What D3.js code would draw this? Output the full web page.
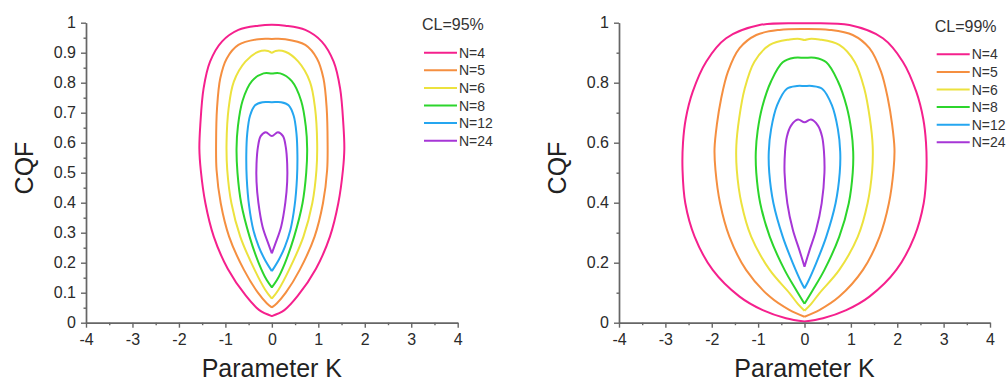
<!DOCTYPE html>
<html>
<head>
<meta charset="utf-8">
<script src="https://cdn.jsdelivr.net/npm/d3@7"></script>
<style>
    body { margin: 0; background: #fff; }
    svg { display: block; font-family: 'Liberation Sans', Arial, sans-serif; }
</style>
</head>
<body>
<svg id="chart" width="1007" height="383"></svg>
<script>

var seriesNames = ['N=4', 'N=5', 'N=6', 'N=8', 'N=12', 'N=24'];
var seriesColors = ['#f5208d', '#f58f40', '#ece23e', '#2cd52c', '#25a6f0', '#a636d6'];

var xTicks = [-4, -3, -2, -1, 0, 1, 2, 3, 4];
var xMinorTicks = [-3.5, -2.5, -1.5, -0.5, 0.5, 1.5, 2.5, 3.5];
var leftYTicks = [0, 0.1, 0.2, 0.3, 0.4, 0.5, 0.6, 0.7, 0.8, 0.9, 1];
var leftYMinorTicks = [0.05, 0.15, 0.25, 0.35, 0.45, 0.55, 0.65, 0.75, 0.85, 0.95];
var rightYTicks = [0, 0.2, 0.4, 0.6, 0.8, 1];
var rightYMinorTicks = [0.1, 0.3, 0.5, 0.7, 0.9];

// half contours (K >= 0), read from bottom to top: [K, CQF]
var cl95_n4 = [[0, 0.022], [0.27, 0.042], [0.56, 0.09], [0.95, 0.18], [1.25, 0.287], [1.43, 0.398], [1.53, 0.509], [1.56, 0.58], [1.54, 0.659], [1.47, 0.78], [1.33, 0.87], [1.075, 0.937], [0.72, 0.976], [0.29, 0.99], [0, 0.993]];
var cl95_n5 = [[0, 0.051], [0.11, 0.065], [0.3, 0.1], [0.6, 0.176], [0.92, 0.287], [1.1, 0.398], [1.19, 0.509], [1.2, 0.6], [1.18, 0.715], [1.11, 0.815], [0.97, 0.881], [0.72, 0.926], [0.29, 0.945], [0, 0.946]];
var cl95_n6 = [[0, 0.08], [0.14, 0.109], [0.37, 0.176], [0.68, 0.287], [0.87, 0.398], [0.96, 0.509], [0.975, 0.6], [0.93, 0.715], [0.82, 0.803], [0.57, 0.87], [0.29, 0.903], [0.08, 0.906], [0, 0.9]];
var cl95_n8 = [[0, 0.118], [0.11, 0.142], [0.28, 0.198], [0.48, 0.287], [0.66, 0.398], [0.74, 0.5], [0.76, 0.58], [0.73, 0.655], [0.63, 0.74], [0.43, 0.805], [0.18, 0.831], [0, 0.831]];
var cl95_n12 = [[0, 0.172], [0.15, 0.21], [0.28, 0.253], [0.4, 0.31], [0.49, 0.39], [0.54, 0.48], [0.55, 0.56], [0.53, 0.63], [0.47, 0.69], [0.36, 0.725], [0.2, 0.735], [0, 0.735]];
var cl95_n24 = [[0, 0.231], [0.08, 0.265], [0.2, 0.32], [0.29, 0.4], [0.33, 0.47], [0.33, 0.53], [0.3, 0.585], [0.24, 0.622], [0.13, 0.635], [0, 0.622]];

var cl99_n4 = [[0, 0.004], [0.4, 0.015], [0.9, 0.042], [1.4, 0.087], [1.98, 0.176], [2.37, 0.287], [2.57, 0.398], [2.63, 0.509], [2.62, 0.6], [2.56, 0.68], [2.41, 0.77], [2.12, 0.87], [1.69, 0.948], [0.97, 0.992], [0, 0.998]];
var cl99_n5 = [[0, 0.02], [0.32, 0.042], [0.75, 0.087], [1.26, 0.176], [1.62, 0.287], [1.82, 0.398], [1.92, 0.509], [1.94, 0.58], [1.89, 0.66], [1.8, 0.745], [1.65, 0.837], [1.4, 0.915], [1.04, 0.959], [0.54, 0.976], [0, 0.979]];
var cl99_n6 = [[0, 0.04], [0.14, 0.062], [0.32, 0.098], [0.75, 0.176], [1.15, 0.287], [1.36, 0.398], [1.46, 0.509], [1.47, 0.59], [1.41, 0.68], [1.29, 0.78], [1.08, 0.87], [0.75, 0.926], [0.32, 0.944], [0.1, 0.946], [0, 0.942]];
var cl99_n8 = [[0, 0.063], [0.18, 0.109], [0.43, 0.176], [0.75, 0.287], [0.955, 0.398], [1.04, 0.5], [1.05, 0.57], [1.01, 0.64], [0.91, 0.72], [0.72, 0.805], [0.47, 0.868], [0.22, 0.883], [0, 0.883]];
var cl99_n12 = [[0, 0.115], [0.07, 0.135], [0.25, 0.198], [0.47, 0.287], [0.67, 0.398], [0.76, 0.5], [0.77, 0.57], [0.72, 0.645], [0.59, 0.725], [0.38, 0.78], [0.16, 0.789], [0, 0.789]];
var cl99_n24 = [[0, 0.187], [0.11, 0.242], [0.25, 0.309], [0.37, 0.398], [0.43, 0.5], [0.42, 0.57], [0.38, 0.62], [0.29, 0.657], [0.14, 0.677], [0, 0.668]];

var svg = d3.select('#chart');

// mirror the right half onto K < 0 so the path runs bottom -> right -> top -> left -> bottom
function fullOutline(half) {
    var left = half.slice(0, -1).reverse().map(function(p) {
        return [-p[0], p[1]];
    });
    return half.concat(left);
}

function drawPanel(panel) {

    var g = svg.append('g');

    var x = d3.scaleLinear()
        .domain([-4, 4])
        .range([panel.left, panel.right]);

    var y = d3.scaleLinear()
        .domain([0, 1])
        .range([322.7, 22.7]);

    var line = d3.line()
        .x(function(d) { return x(d[0]); })
        .y(function(d) { return y(d[1]); })
        .curve(d3.curveCatmullRom.alpha(0.5));

    g.selectAll('.contour')
        .data(panel.curves)
        .enter()
        .append('path')
            .attr('class', 'contour')
            .attr('d', function(d) { return line(fullOutline(d)); })
            .attr('fill', 'none')
            .attr('stroke', function(d, i) { return seriesColors[i]; })
            .attr('stroke-width', 2)
            .attr('stroke-linejoin', 'round');

    // minor ticks first, major axes on top
    g.append('g')
        .attr('transform', 'translate(0,' + y(0) + ')')
        .call(d3.axisBottom(x).tickValues(xMinorTicks).tickSize(2.5).tickSizeOuter(0).tickFormat(''));

    g.append('g')
        .attr('transform', 'translate(' + x(-4) + ',0)')
        .call(d3.axisLeft(y).tickValues(panel.yMinor).tickSize(2.5).tickSizeOuter(0).tickFormat(''));

    g.append('g')
        .attr('class', 'xaxis')
        .attr('transform', 'translate(0,' + y(0) + ')')
        .call(d3.axisBottom(x).tickValues(xTicks).tickSize(5).tickPadding(6).tickSizeOuter(0).tickFormat(function(d) {
            return String(d);
        }));

    g.append('g')
        .attr('class', 'yaxis')
        .attr('transform', 'translate(' + x(-4) + ',0)')
        .call(d3.axisLeft(y).tickValues(panel.yTicks).tickSize(5).tickPadding(5).tickSizeOuter(0).tickFormat(function(d) {
            return d === 0 || d === 1 ? String(d) : d.toFixed(1);
        }));

    g.selectAll('.domain, .tick line')
        .attr('stroke', '#666')
        .attr('stroke-width', 1.4);

    g.selectAll('.tick text')
        .attr('fill', '#2a2a2a')
        .style('font-size', '16px')
        .style('font-family', "'Liberation Sans', Arial, sans-serif");

    g.append('text')
        .attr('x', x(0))
        .attr('y', 377)
        .attr('text-anchor', 'middle')
        .attr('fill', '#222')
        .style('font-size', '25px')
        .text('Parameter K');

    g.append('text')
        .attr('transform', 'translate(' + panel.titleX + ',168) rotate(-90)')
        .attr('text-anchor', 'middle')
        .attr('dy', '0.35em')
        .attr('fill', '#222')
        .style('font-size', '25px')
        .text('CQF');

    // legend
    var legend = g.append('g')
        .attr('transform', 'translate(' + panel.legendX + ',' + panel.legendY + ')');

    legend.append('text')
        .attr('x', -2)
        .attr('y', -22.7)
        .attr('fill', '#333')
        .style('font-size', '16px')
        .text(panel.title);

    var rows = legend.selectAll('.row')
        .data(seriesNames)
        .enter()
        .append('g')
            .attr('class', 'row')
            .attr('transform', function(d, i) { return 'translate(0,' + (i * 17.6) + ')'; });

    rows.append('line')
        .attr('x1', 0)
        .attr('x2', 33)
        .attr('stroke', function(d, i) { return seriesColors[i]; })
        .attr('stroke-width', 2);

    rows.append('text')
        .attr('x', 35)
        .attr('dy', '0.36em')
        .attr('fill', '#333')
        .style('font-size', '14px')
        .text(function(d) { return d; });
}

drawPanel({
    left: 86,
    right: 457.7,
    titleX: 24,
    yTicks: leftYTicks,
    yMinor: leftYMinorTicks,
    legendX: 424,
    legendY: 52.7,
    title: 'CL=95%',
    curves: [cl95_n4, cl95_n5, cl95_n6, cl95_n8, cl95_n12, cl95_n24]
});

drawPanel({
    left: 619,
    right: 990,
    titleX: 557,
    yTicks: rightYTicks,
    yMinor: rightYMinorTicks,
    legendX: 936.7,
    legendY: 54.3,
    title: 'CL=99%',
    curves: [cl99_n4, cl99_n5, cl99_n6, cl99_n8, cl99_n12, cl99_n24]
});

</script>
</body>
</html>
